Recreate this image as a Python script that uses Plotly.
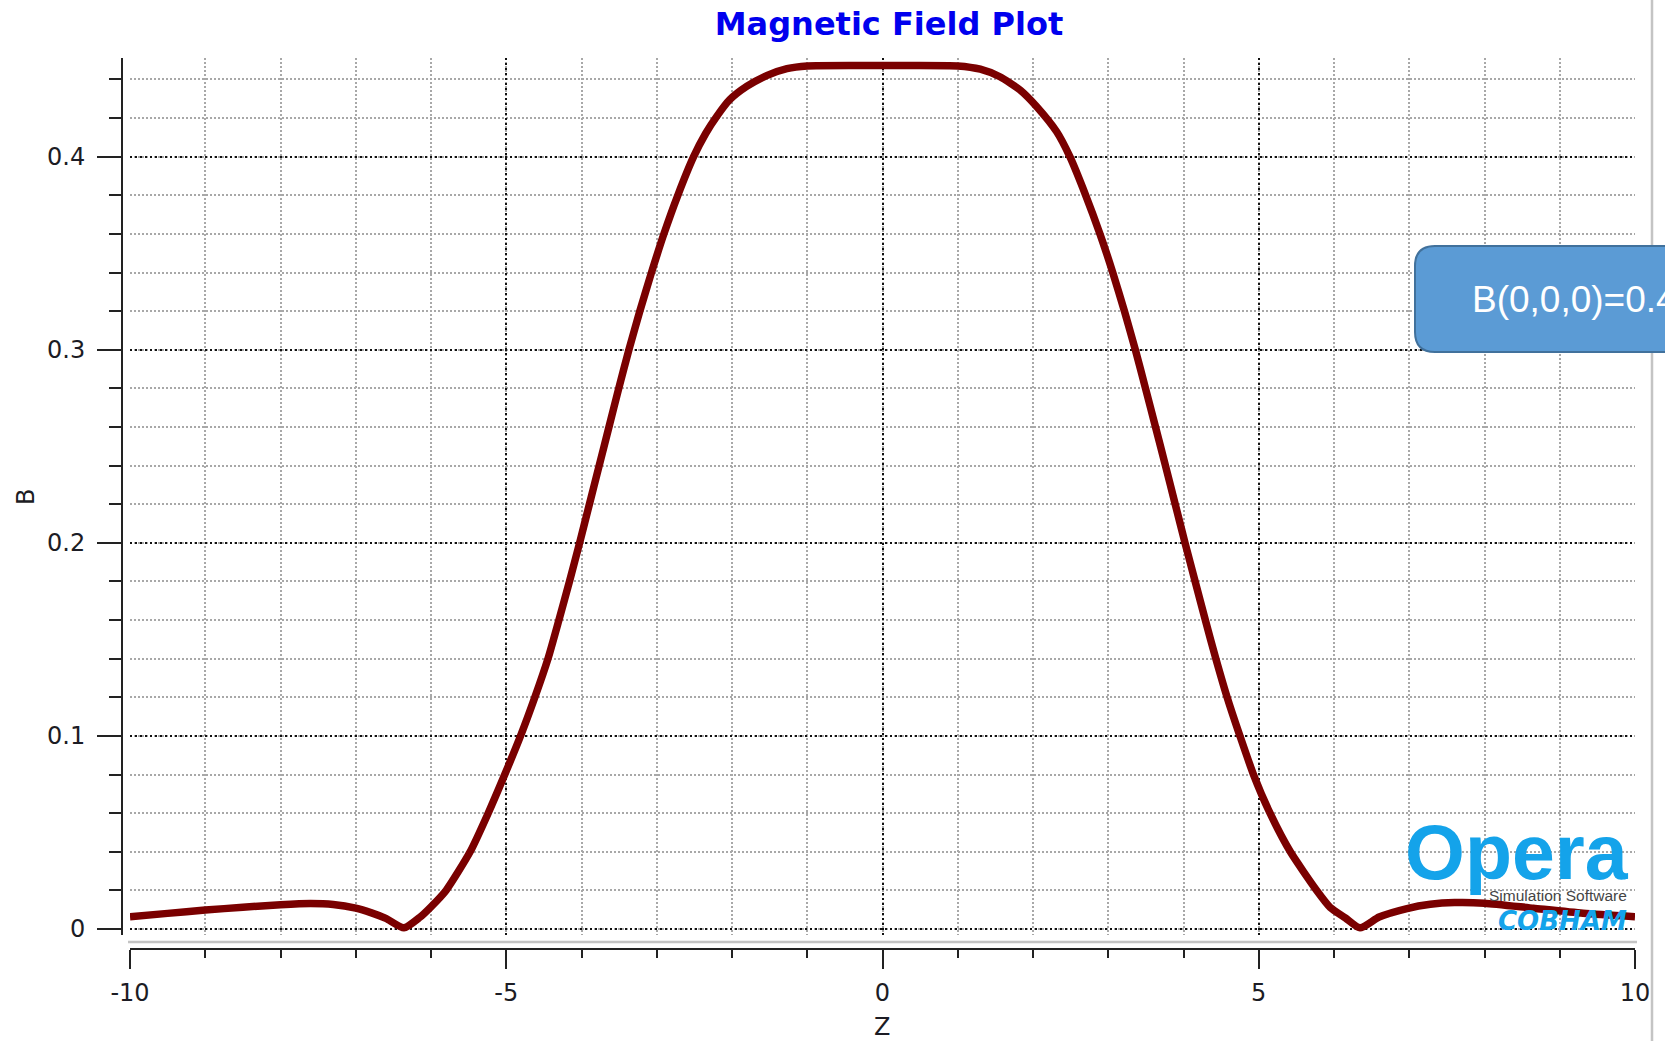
import plotly.graph_objects as go

# ---------------- data ----------------
Z_POSITION = [-10.0, -9.5, -9.0, -8.5, -8.0, -7.6, -7.3, -7.0, -6.8, -6.6, -6.36,
              -6.15, -6.0, -5.8, -5.48, -5.24, -5.02, -4.81, -4.62, -4.445, -4.30,
              -4.16, -4.025, -3.895, -3.765, -3.635, -3.505, -3.37, -3.225, -3.07,
              -2.905, -2.72, -2.51, -2.35, -2.2, -2.03, -1.8, -1.54, -1.27, -1.0, 0.0,
              1.0, 1.3, 1.56, 1.83, 2.05, 2.315, 2.49, 2.70, 2.89, 3.06, 3.215, 3.36,
              3.495, 3.628, 3.76, 3.89, 4.02, 4.155, 4.29, 4.43, 4.58, 4.75, 4.93,
              5.15, 5.42, 5.77, 5.95, 6.15, 6.346, 6.6, 6.97, 7.28, 7.6, 8.0, 8.65,
              9.31, 10.0]
B_FIELD = [0.0064, 0.0081, 0.0098, 0.0113, 0.0126, 0.0132, 0.0127, 0.0108, 0.0085,
           0.0055, 0.0006, 0.0060, 0.0115, 0.020, 0.040, 0.060, 0.080, 0.100, 0.120,
           0.140, 0.160, 0.180, 0.200, 0.220, 0.240, 0.260, 0.280, 0.300, 0.320,
           0.340, 0.360, 0.380, 0.400, 0.412, 0.421, 0.4295, 0.4365, 0.4420, 0.4456,
           0.4470, 0.4472,
           0.4470, 0.4453, 0.4414, 0.4345, 0.4259, 0.4129, 0.400, 0.380, 0.360,
           0.340, 0.320, 0.300, 0.280, 0.260, 0.240, 0.220, 0.200, 0.180, 0.160,
           0.140, 0.120, 0.100, 0.080, 0.060, 0.040, 0.020, 0.0112, 0.0058, 0.0006,
           0.0062, 0.0106, 0.0128, 0.0137, 0.0134, 0.0108, 0.0082, 0.0064]

X_TICK_VALUES = [-10, -5, 0, 5, 10]
X_TICK_LABELS = ["-10", "-5", "0", "5", "10"]
Y_TICK_VALUES = [0, 0.1, 0.2, 0.3, 0.4]
Y_TICK_LABELS = ["0", "0.1", "0.2", "0.3", "0.4"]
X_RANGE = [-10, 10]
Y_RANGE = [-0.0031, 0.4511]

TITLE = "Magnetic Field Plot"
X_LABEL = "Z"
Y_LABEL = "B"
CALLOUT = "B(0,0,0)=0.447"
LOGO_MAIN = "Opera"
LOGO_SUB = "Simulation Software"
LOGO_BRAND = "COBHAM"

# ---------------- layout helpers ----------------
# the page margin is removed (see post_script), so the figure starts at (0, 0)
OFF = 0
W, H = 1665 - OFF, 1041 - OFF
ML, MR, MT, MB = 122 - OFF, 13, 58 - OFF, 92
PW = W - ML - MR
PH = H - MT - MB


def px(sx):
    """screen x -> paper fraction"""
    return (sx - OFF - ML) / PW


def py(sy):
    """screen y -> paper fraction"""
    return (H - MB - (sy - OFF)) / PH


AXIS_COLOR = "#222222"
TICK_FONT = dict(family="DejaVu Sans", size=24, color="#1c1c24")

fig = go.Figure()
fig.add_trace(go.Scatter(x=Z_POSITION, y=B_FIELD, mode="lines",
                         line=dict(color="#7a0000", width=7.5, shape="spline",
                                   smoothing=0.6),
                         showlegend=False))

fig.update_layout(
    width=W, height=H,
    margin=dict(l=ML, r=MR, t=MT, b=MB, autoexpand=False),
    paper_bgcolor="white", plot_bgcolor="white",
    showlegend=False,
    title=dict(text=TITLE, x=px(889), xref="paper", xanchor="center",
               y=1 - (24 - OFF) / H, yref="container", yanchor="middle",
               font=dict(family="DejaVu Sans", size=32, color="#0000ee", weight="bold")),
    xaxis=dict(
        domain=[px(130), px(1635)], range=X_RANGE, anchor="free", position=0,
        showline=True, linecolor=AXIS_COLOR, linewidth=2,
        tickmode="array", tickvals=X_TICK_VALUES, ticktext=X_TICK_LABELS,
        ticks="outside", ticklen=19, tickwidth=2.3, tickcolor=AXIS_COLOR,
        tickfont=TICK_FONT, ticklabelstandoff=3,
        showgrid=True, gridcolor="#111111", griddash="2px,3px", gridwidth=1.8,
        zeroline=False, automargin=False,
        minor=dict(tickmode="linear", tick0=0, dtick=1, ticks="outside", ticklen=8,
                   tickwidth=2.3, tickcolor=AXIS_COLOR, showgrid=True,
                   gridcolor="#a8a8a8", griddash="1.5px,2.5px", gridwidth=1.5),
    ),
    yaxis=dict(
        domain=[py(935), 1], range=Y_RANGE, anchor="free", position=0,
        showline=True, linecolor=AXIS_COLOR, linewidth=2,
        tickmode="array", tickvals=Y_TICK_VALUES, ticktext=Y_TICK_LABELS,
        ticks="outside", ticklen=24, tickwidth=2.3, tickcolor=AXIS_COLOR,
        tickfont=TICK_FONT, ticklabelstandoff=7,
        showgrid=True, gridcolor="#111111", griddash="2px,3px", gridwidth=1.8,
        zeroline=False, automargin=False,
        minor=dict(tickmode="linear", tick0=0, dtick=0.02, ticks="outside", ticklen=12,
                   tickwidth=2.3, tickcolor=AXIS_COLOR, showgrid=True,
                   gridcolor="#a8a8a8", griddash="1.5px,2.5px", gridwidth=1.5),
    ),
)

# frame lines (light grey) below and right of the plotting area
fig.add_shape(type="line", xref="paper", yref="paper",
              x0=px(128), x1=px(1637), y0=py(942), y1=py(942),
              line=dict(color="#c4c4c4", width=2.5))
fig.add_shape(type="line", xref="paper", yref="paper",
              x0=px(1652), x1=px(1652), y0=py(OFF), y1=py(1041),
              line=dict(color="#c4c4c4", width=2.5))

# rounded call-out box (extends past the right edge of the picture)
bx0, bx1, by0, by1, r = 1415, 1800, 246, 352, 20
pts = [("M", bx0 + r, by0), ("L", bx1, by0), ("L", bx1, by1), ("L", bx0 + r, by1),
       ("Q", bx0, by1, bx0, by1 - r), ("L", bx0, by0 + r), ("Q", bx0, by0, bx0 + r, by0)]
path = ""
for p in pts:
    coords = p[1:]
    seg = p[0]
    for i in range(0, len(coords), 2):
        seg += f" {px(coords[i]):.5f},{py(coords[i + 1]):.5f}"
    path += seg + " "
path += "Z"
fig.add_shape(type="path", xref="paper", yref="paper", path=path,
              fillcolor="#5b9bd5", line=dict(color="#41719c", width=2), layer="above")

annotations = [
    dict(text=CALLOUT, x=px(1470), y=py(299), xanchor="left", yanchor="middle",
         font=dict(family="Liberation Sans", size=37, color="white")),
    dict(text=X_LABEL, x=px(882), y=py(1027), xanchor="center", yanchor="middle",
         font=dict(family="DejaVu Sans", size=24, color="#1c1c24")),
    dict(text=Y_LABEL, x=px(26), y=py(497), xanchor="center", yanchor="middle",
         textangle=-90, font=dict(family="DejaVu Sans", size=24, color="#1c1c24")),
    dict(text=LOGO_MAIN, x=px(1631), y=py(852), xanchor="right", yanchor="middle",
         font=dict(family="Liberation Sans", size=77, color="#14a3ea", weight="bold")),
    dict(text=LOGO_SUB, x=px(1629), y=py(895), xanchor="right", yanchor="middle",
         font=dict(family="Liberation Sans", size=15.5, color="#444444")),
    dict(text=LOGO_BRAND, x=px(1629), y=py(921), xanchor="right", yanchor="middle",
         font=dict(family="DejaVu Sans", size=26, color="#14a3ea",
                   weight="bold", style="italic")),
]
for a in annotations:
    a.update(xref="paper", yref="paper", showarrow=False)
fig.update_layout(annotations=annotations)

fig.write_html(
    "out.html",
    config={"displayModeBar": False},
    post_script="document.body.style.margin='0';document.body.style.overflow='hidden';",
)
